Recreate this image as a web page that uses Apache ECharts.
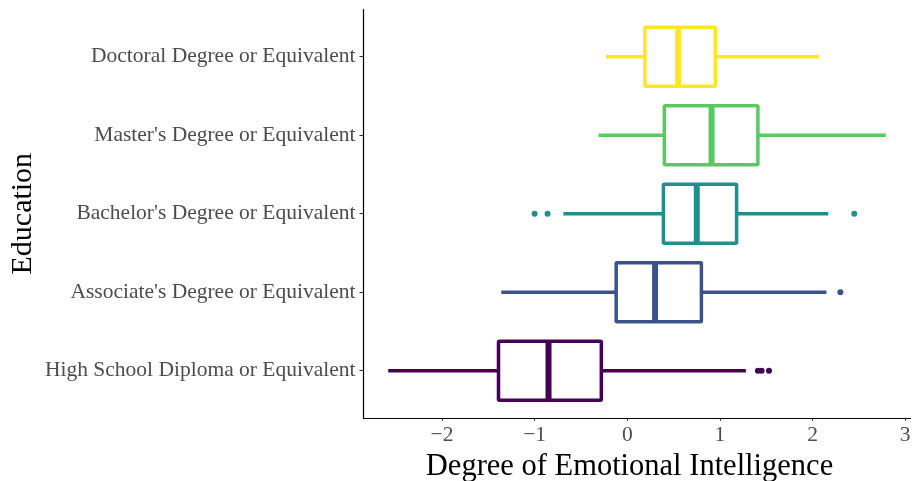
<!DOCTYPE html>
<html>
<head>
<meta charset="utf-8">
<script src="https://cdn.jsdelivr.net/npm/echarts@6/dist/echarts.min.js"></script>
<style>
  html, body { margin: 0; padding: 0; background: #fff; }
  #main { width: 912px; height: 481px; }
</style>
</head>
<body>
<div id="main"></div>
<script>
// bottom to top, as drawn on the y axis
const categories = [
    'High School Diploma or Equivalent',
    "Associate's Degree or Equivalent",
    "Bachelor's Degree or Equivalent",
    "Master's Degree or Equivalent",
    'Doctoral Degree or Equivalent'
];
const colors = ['#440154', '#3B528B', '#21908C', '#5DC863', '#FDE725'];

const lowWhisker  = [-2.58, -1.36, -0.69, -0.31, -0.23];
const q1          = [-1.39, -0.12,  0.39,  0.40,  0.19];
const median      = [-0.85,  0.30,  0.75,  0.91,  0.55];
const q3          = [-0.28,  0.80,  1.18,  1.41,  0.95];
const highWhisker = [ 1.28,  2.15,  2.17,  2.79,  2.07];
const outliers    = [
    [1.41, 1.45, 1.53],
    [2.30],
    [-1.00, -0.86, 2.45],
    [],
    []
];
const xTicks = [-2, -1, 0, 1, 2, 3];

const font = 'Liberation Serif';

var myChart = echarts.init(document.getElementById('main'));

const boxData = categories.map(function (c, i) {
    return [i + 1, lowWhisker[i], q1[i], median[i], q3[i], highWhisker[i]];
});

let pointData = [];
outliers.forEach(function (list, i) {
    list.forEach(function (v) {
        pointData.push({value: [v, i + 1], itemStyle: {color: colors[i], opacity: 1}});
    });
});

function renderBox(params, api) {
    const i = params.dataIndex;
    const y = api.value(0);
    const c = colors[i];
    const pLow = api.coord([api.value(1), y]);
    const pQ1 = api.coord([api.value(2), y]);
    const pMed = api.coord([api.value(3), y]);
    const pQ3 = api.coord([api.value(4), y]);
    const pHigh = api.coord([api.value(5), y]);
    const h = api.size([0, 0.75])[1];
    const top = pMed[1] - h / 2;
    return {
        type: 'group',
        children: [
            {type: 'line', shape: {x1: pLow[0], y1: pLow[1], x2: pQ1[0], y2: pQ1[1]},
                style: {stroke: c, lineWidth: 3.5}},
            {type: 'line', shape: {x1: pQ3[0], y1: pQ3[1], x2: pHigh[0], y2: pHigh[1]},
                style: {stroke: c, lineWidth: 3.5}},
            {type: 'rect', shape: {x: pQ1[0], y: top, width: pQ3[0] - pQ1[0], height: h, r: 1},
                style: {fill: '#fff', stroke: c, lineWidth: 3.5}},
            {type: 'line', shape: {x1: pMed[0], y1: top, x2: pMed[0], y2: top + h},
                style: {stroke: c, lineWidth: 6}}
        ]
    };
}

let option = {
    animation: false,
    grid: {left: 363.5, right: 1.5, top: 9.6, bottom: 63.2, outerBoundsMode: 'none'},
    xAxis: {
        type: 'value',
        min: -2.847,
        max: 3.057,
        name: 'Degree of Emotional Intelligence',
        nameLocation: 'middle',
        nameGap: 34,
        nameMoveOverlap: false,
        nameTextStyle: {fontFamily: font, fontSize: 30.5, color: '#000', padding: [0, 15, 0, 0]},
        axisLine: {show: true, onZero: false, lineStyle: {color: '#000', width: 1.2}},
        axisTick: {show: true, length: 3, customValues: xTicks, lineStyle: {color: '#333', width: 1.1}},
        axisLabel: {
            customValues: xTicks,
            margin: 7,
            fontFamily: font, fontSize: 21.5, color: '#4D4D4D',
            formatter: function (v) { return v < 0 ? '\u2212' + Math.abs(v) : String(v); }
        },
        splitLine: {show: false}
    },
    yAxis: {
        type: 'value',
        min: 0.4,
        max: 5.6,
        name: 'Education',
        nameLocation: 'middle',
        nameGap: 325,
        nameMoveOverlap: false,
        nameTextStyle: {fontFamily: font, fontSize: 30, color: '#000'},
        axisLine: {show: true, onZero: false, lineStyle: {color: '#000', width: 1.2}},
        axisTick: {show: true, length: 4, customValues: [1, 2, 3, 4, 5], lineStyle: {color: '#333', width: 1.1}},
        axisLabel: {
            customValues: [1, 2, 3, 4, 5],
            margin: 8,
            fontFamily: font, fontSize: 21.5, color: '#4D4D4D',
            formatter: function (v) { return categories[Math.round(v) - 1]; }
        },
        splitLine: {show: false}
    },
    series: [
        {
            type: 'custom',
            renderItem: renderBox,
            encode: {x: [1, 2, 3, 4, 5], y: 0},
            data: boxData
        },
        {
            type: 'scatter',
            symbolSize: 6,
            data: pointData
        }
    ]
};

myChart.setOption(option);
</script>
</body>
</html>
